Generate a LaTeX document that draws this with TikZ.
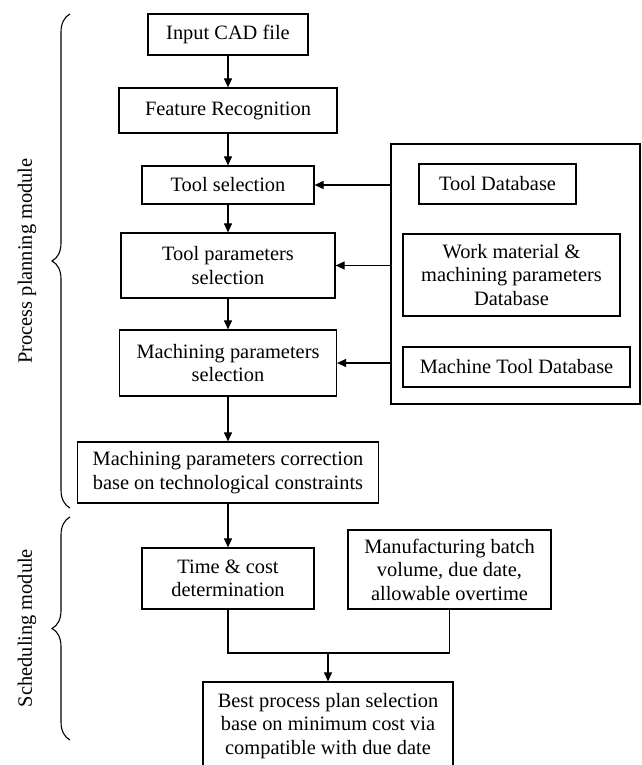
\documentclass[tikz,border=0pt]{standalone}
\usepackage{fontspec}
\setmainfont{Liberation Serif}
\usetikzlibrary{shapes,arrows.meta,positioning,decorations.pathreplacing}

\begin{document}
\begin{tikzpicture}[x=1pt, y=-1pt, auto]

% Define styles
\tikzstyle{box} = [rectangle, draw, line width=1.2pt, align=center, inner sep=0pt, font=\fontsize{20.4}{23.5}\selectfont]
\tikzstyle{arrow} = [line width=1.1pt, -{Triangle[length=9pt,width=8pt]}]
\tikzstyle{line} = [line width=1.1pt]
\tikzstyle{modbrace} = [line width=1.1pt, decorate, decoration={brace, amplitude=18pt}]
\tikzstyle{modlabel} = [rotate=90, font=\fontsize{20.4}{24}\selectfont]

\useasboundingbox (0,0) rectangle (641,765);

% Nodes
\node [box, minimum width=160pt, minimum height=41pt] (input) at (228,34.5) {Input CAD file};
\node [box, minimum width=218pt, minimum height=45pt, below of=input, node distance=76pt] (feature) {Feature Recognition};
\node [box, minimum width=172pt, minimum height=38pt, below of=feature, node distance=74.5pt] (toolsel) {Tool selection};
\node [box, minimum width=214pt, minimum height=65pt, below of=toolsel, node distance=80.5pt] (toolpar) {Tool parameters\\selection};
\node [box, minimum width=217pt, minimum height=66pt, below of=toolpar, node distance=97.5pt] (machpar) {Machining parameters\\selection};
\node [box, minimum width=301pt, minimum height=61pt, below of=machpar, node distance=109.5pt] (correct) {Machining parameters correction\\base on technological constraints};
\node [box, minimum width=172pt, minimum height=61pt, below of=correct, node distance=106pt] (timecost) {Time \& cost\\determination};
\node [box, minimum width=203pt, minimum height=79pt] (manuf) at (449.5,569.5) {Manufacturing batch\\volume, due date,\\allowable overtime};
\node [box, minimum width=250pt, minimum height=88pt] (best) at (328,726) {Best process plan selection\\base on minimum cost via\\compatible with due date};
\coordinate (join) at (328,653);

% Database boxes
\node [box, minimum width=249pt, minimum height=260pt] (dbframe) at (515.5,274) {};
\node [box, minimum width=157pt, minimum height=40pt] (tooldb) at (497.5,184) {Tool Database};
\node [box, minimum width=217pt, minimum height=82pt] (workdb) at (511.5,275) {Work material \&\\machining parameters\\Database};
\node [box, minimum width=227pt, minimum height=40pt] (machdb) at (516.5,367) {Machine Tool Database};

% Arrows
\draw [arrow] (input) -- (feature);
\draw [arrow] (feature) -- (toolsel);
\draw [arrow] (toolsel) -- (toolpar);
\draw [arrow] (toolpar) -- (machpar);
\draw [arrow] (machpar) -- (correct);
\draw [arrow] (correct) -- (timecost);
\draw [line] (timecost.south) |- (join);
\draw [line] (manuf.south) |- (join);
\draw [arrow] (join) -- (best);

\draw [arrow] (dbframe.west |- toolsel) -- (toolsel);
\draw [arrow] (dbframe.west |- toolpar) -- (toolpar);
\draw [arrow] (dbframe.west |- machpar) -- (machpar);

% Modules
\draw [modbrace] (70,508) -- (70,14);
\draw [modbrace] (70,740) -- (70,517);
\node [modlabel] (planlabel) at (27,261) {Process planning module};
\node [modlabel] (schedlabel) at (27,628) {Scheduling module};

\end{tikzpicture}
\end{document}
